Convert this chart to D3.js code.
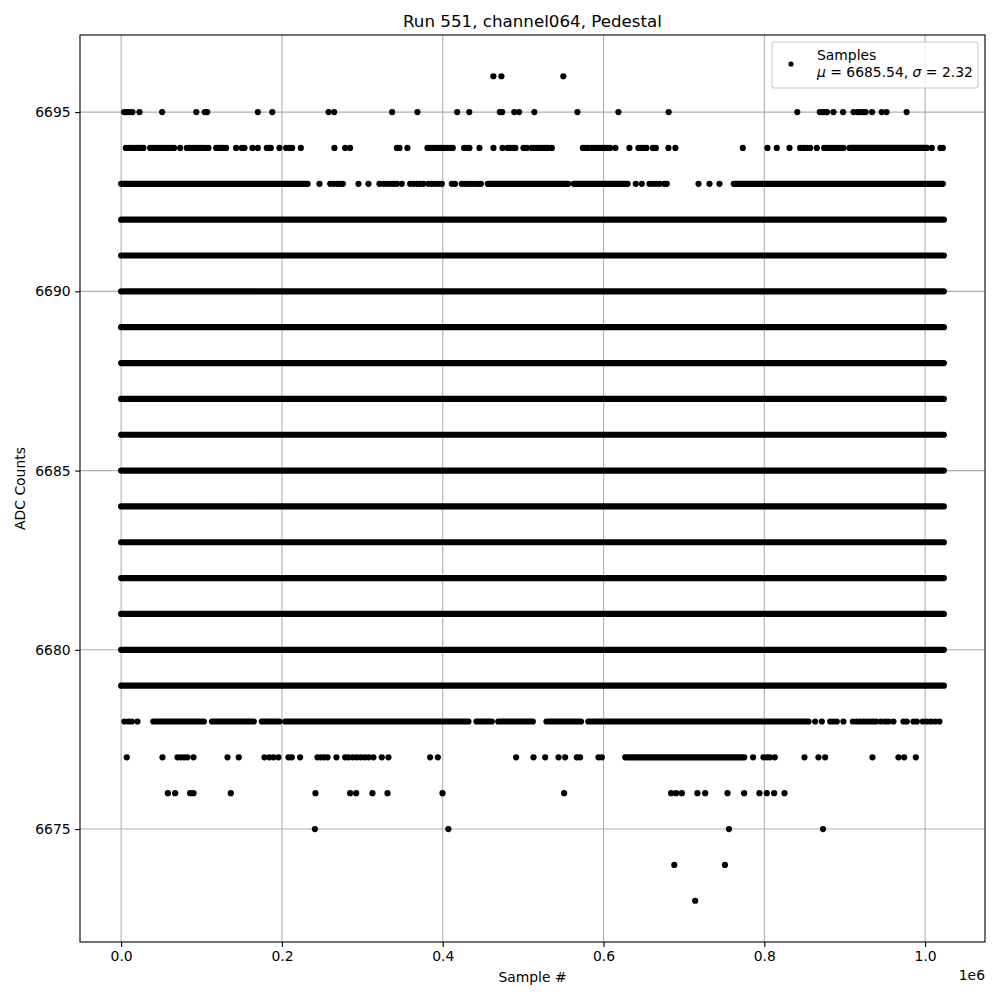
<!DOCTYPE html>
<html>
<head>
<meta charset="utf-8">
<script src="https://cdn.jsdelivr.net/npm/d3@7"></script>
<style>
  body { margin: 0; background: #fff; }
  text { font-family: "DejaVu Sans", sans-serif; }
</style>
</head>
<body>
<div id="canvas"></div>
<script>
// rows that are filled solid over the whole run
const fullRows = [6679, 6680, 6681, 6682, 6683, 6684, 6685, 6686, 6687, 6688, 6689, 6690, 6691, 6692];
const runStart = 0;
const runEnd = 1023300;

// dense stretches in the partly filled rows: [start, end]
const spans6693 = [[0, 232000], [456000, 556000], [563000, 630000], [762000, 1022000]];
const spans6694 = [[905900, 1002100]];
const spans6678 = [[40000, 103000], [113000, 165000], [175000, 197000], [204000, 432000],
  [442000, 461000], [469000, 512000], [529000, 572000], [581000, 855000]];
const spans6677 = [[627000, 775000]];

// single samples
const pts6696 = [463000, 473000, 550000];
const pts6695 = [3700, 7100, 10400, 14100, 22800, 51000, 93500, 104000, 107000, 170000, 188000,
  258000, 265000, 337000, 368500, 418000, 433000, 471000, 474000, 489000, 495000, 514000,
  567500, 618500, 681000, 841000, 869000, 873000, 876000, 878000, 886000, 898000, 911000,
  916000, 919000, 923000, 926000, 934000, 946000, 952000, 977000];
const pts6694 = [5800, 9100, 12000, 15300, 18700, 22000, 25300, 27700, 36100, 39400, 42700, 46000,
  49400, 52600, 56000, 59300, 62600, 65900, 73400, 81700, 85000, 88300, 91700, 94900, 98300,
  101600, 104900, 108600, 118200, 121000, 124000, 127200, 130600, 143000, 150100, 153400,
  163300, 170000, 181200, 184100, 186200, 196900, 205200, 209300, 212700, 223500, 265300,
  278600, 284800, 342900, 346200, 356100, 381000, 384300, 387700, 391000, 394300, 397600,
  400900, 405100, 409200, 412500, 426600, 430000, 433200, 445700, 463100, 474300, 480500,
  483800, 487200, 490400, 500400, 504600, 510800, 514100, 517400, 520800, 524000, 527400,
  530700, 535700, 574300, 577500, 580900, 585500, 588700, 592000, 595400, 598600, 602000,
  605400, 608200, 614800, 632200, 643400, 646800, 650100, 653400, 661300, 665100, 680700,
  689400, 773200, 803900, 815500, 831300, 844500, 848700, 852900, 857000, 865300, 874400,
  877700, 881000, 884300, 887700, 891000, 894300, 898400, 1008300, 1019000, 1022000];
const pts6693 = [246700, 260000, 264100, 268300, 272400, 275700, 295200, 307600, 321300, 326300,
  330500, 334600, 338700, 342900, 349100, 359500, 363600, 367800, 371900, 376000, 382200,
  386400, 390600, 394700, 398900, 411300, 415400, 423700, 427900, 432000, 436200, 440300,
  444400, 447400, 640100, 647600, 657100, 661300, 665400, 669600, 675400, 678700, 718100,
  731800, 744200];
const pts6678 = [4100, 9100, 13300, 20300, 863200, 871500, 881900, 886000, 890100, 898400, 910100,
  915000, 919200, 923300, 927500, 931600, 935700, 939100, 944900, 950200, 954400, 960600,
  973000, 977200, 985500, 989700, 997100, 1002100, 1007100, 1012400, 1017800];
const pts6677 = [7000, 51400, 70100, 74200, 78400, 82500, 90000, 132300, 146300, 178300, 184500,
  189500, 195700, 208100, 212300, 222600, 244200, 248300, 252500, 256700, 267800, 278600,
  282800, 288100, 293100, 298100, 303100, 308000, 313800, 324200, 332500, 384300, 393900,
  491300, 512900, 527400, 544000, 552200, 566800, 570900, 593700, 597900, 786000, 798900,
  803100, 807000, 813000, 849900, 867300, 875600, 934500, 966800, 973900, 988400];
const pts6676 = [58100, 67200, 85800, 90000, 136400, 241700, 284800, 292300, 312600, 331300,
  399700, 551000, 684100, 690300, 697400, 716800, 726400, 754200, 774900, 793900, 803100,
  812200, 825100];
const pts6675 = [241000, 407000, 756000, 873000];
const pts6674 = [688000, 751000];
const pts6673 = [714000];

const xTicks = [0, 200000, 400000, 600000, 800000, 1000000];
const yTicks = [6675, 6680, 6685, 6690, 6695];
const titleText = "Run 551, channel064, Pedestal";

// build flat tables from the arrays
const spans = [];
fullRows.forEach(r => spans.push({ y: r, x0: runStart, x1: runEnd }));
[[6693, spans6693], [6694, spans6694], [6678, spans6678], [6677, spans6677]]
  .forEach(([r, list]) => list.forEach(s => spans.push({ y: r, x0: s[0], x1: s[1] })));

const points = [];
[[6696, pts6696], [6695, pts6695], [6694, pts6694], [6693, pts6693], [6678, pts6678],
 [6677, pts6677], [6676, pts6676], [6675, pts6675], [6674, pts6674], [6673, pts6673]]
  .forEach(([r, list]) => list.forEach(v => points.push({ x: v, y: r })));

const width = 1000, height = 1000;
const margin = { top: 35, left: 80, bottom: 58, right: 15 };
const iwidth = width - margin.left - margin.right;
const iheight = height - margin.top - margin.bottom;

const svg = d3.select("#canvas").append("svg")
  .attr("width", width).attr("height", height);

const g = svg.append("g").attr("transform", `translate(${margin.left},${margin.top})`);

const xMin = 0, xMax = runEnd, yMin = 6673, yMax = 6696;
const xPad = (xMax - xMin) * 0.05, yPad = (yMax - yMin) * 0.05;
const x = d3.scaleLinear().domain([xMin - xPad, xMax + xPad]).range([0, iwidth]);
const y = d3.scaleLinear().domain([yMin - yPad, yMax + yPad]).range([iheight, 0]);

// grid
g.append("g").selectAll("line").data(xTicks).enter().append("line")
  .attr("x1", d => x(d)).attr("x2", d => x(d)).attr("y1", 0).attr("y2", iheight)
  .attr("stroke", "#b0b0b0").attr("stroke-width", 1.1);
g.append("g").selectAll("line").data(yTicks).enter().append("line")
  .attr("y1", d => y(d)).attr("y2", d => y(d)).attr("x1", 0).attr("x2", iwidth)
  .attr("stroke", "#b0b0b0").attr("stroke-width", 1.1);

// dense rows
const plot = g.append("g");
plot.selectAll("line.span").data(spans).enter().append("line")
  .attr("class", "span")
  .attr("x1", d => x(d.x0)).attr("x2", d => x(d.x1))
  .attr("y1", d => y(d.y)).attr("y2", d => y(d.y))
  .attr("stroke", "#000").attr("stroke-width", 6.2).attr("stroke-linecap", "round");

// single samples
plot.selectAll("circle").data(points).enter().append("circle")
  .attr("cx", d => x(d.x)).attr("cy", d => y(d.y)).attr("r", 3.1)
  .attr("fill", "#000");

// axes
const xAxis = d3.axisBottom(x).tickValues(xTicks).tickFormat(d => (d / 1e6).toFixed(1))
  .tickSize(4.9).tickPadding(4.5);
const yAxis = d3.axisLeft(y).tickValues(yTicks).tickFormat(d3.format("d"))
  .tickSize(4.9).tickPadding(4.5);

const gx = g.append("g").attr("transform", `translate(0,${iheight})`).call(xAxis);
const gy = g.append("g").call(yAxis);
[gx, gy].forEach(a => {
  a.select(".domain").remove();
  a.selectAll(".tick line").attr("stroke", "#000").attr("stroke-width", 1.1);
  a.selectAll(".tick text").attr("fill", "#000")
    .style("font-family", "DejaVu Sans").style("font-size", "13.9px");
});

// frame
g.append("rect").attr("width", iwidth).attr("height", iheight)
  .attr("fill", "none").attr("stroke", "#000").attr("stroke-width", 1.1);

// labels
svg.append("text").attr("x", margin.left + iwidth / 2).attr("y", 27)
  .attr("text-anchor", "middle").style("font-size", "16.7px").text(titleText);
svg.append("text").attr("x", margin.left + iwidth / 2).attr("y", 982)
  .attr("text-anchor", "middle").style("font-size", "13.9px").text("Sample #");
svg.append("text").attr("transform", `translate(25,${margin.top + iheight / 2}) rotate(-90)`)
  .attr("text-anchor", "middle").style("font-size", "13.9px").text("ADC Counts");
svg.append("text").attr("x", margin.left + iwidth).attr("y", 980)
  .attr("text-anchor", "end").style("font-size", "13.9px").text("1e6");

// legend
const lg = svg.append("g").attr("transform", "translate(772,42)");
lg.append("rect").attr("width", 206).attr("height", 46).attr("rx", 3)
  .attr("fill", "#fff").attr("fill-opacity", 0.8)
  .attr("stroke", "#cccccc").attr("stroke-width", 1.1);
lg.append("circle").attr("cx", 19).attr("cy", 22).attr("r", 2.6).attr("fill", "#000");
lg.append("text").attr("x", 45).attr("y", 18).style("font-size", "13.9px").text("Samples");
const t2 = lg.append("text").attr("x", 45).attr("y", 35).style("font-size", "13.9px");
t2.append("tspan").style("font-style", "italic").text("μ");
t2.append("tspan").text(" = 6685.54, ");
t2.append("tspan").style("font-style", "italic").text("σ");
t2.append("tspan").text(" = 2.32");
</script>
</body>
</html>
